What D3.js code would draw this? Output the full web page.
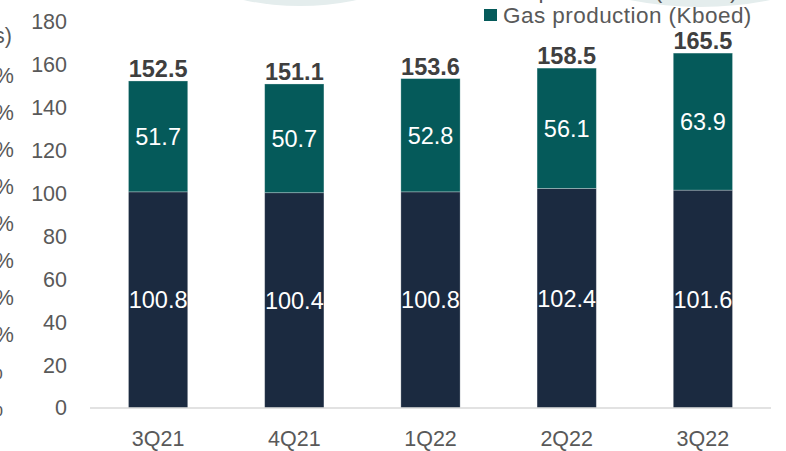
<!DOCTYPE html>
<html>
<head>
<meta charset="utf-8">
<script src="https://cdn.jsdelivr.net/npm/d3@7/dist/d3.min.js"></script>
<style>
  html, body { margin: 0; padding: 0; background: #ffffff; }
  svg { display: block; font-family: "Liberation Sans", Arial, Helvetica, sans-serif; }
</style>
</head>
<body>
<svg id="chart" width="786" height="451"></svg>
<script>
// Quarterly production, Kboed
const quarters = ["3Q21", "4Q21", "1Q22", "2Q22", "3Q22"];
const oilProduction = [100.8, 100.4, 100.8, 102.4, 101.6];
const gasProduction = [51.7, 50.7, 52.8, 56.1, 63.9];
const totalProduction = [152.5, 151.1, 153.6, 158.5, 165.5];
const yTicks = [0, 20, 40, 60, 80, 100, 120, 140, 160, 180];
const shareTicks = ["90%", "80%", "70%", "60%", "50%", "40%", "30%", "20%", "10%", "0%"];
const seriesNames = ["Oil production (Kboed)", "Gas production (Kboed)"];

const OIL = "#1b2a40", GAS = "#055a5a";
const AXIS_TEXT = "#595959", LABEL_DARK = "#3f3f3f";

const svg = d3.select("#chart");
const plot = { left: 90, right: 771, top: 22, bottom: 408 };

// Decorative pale circles peeking in from the top edge
svg.append("circle").attr("cx", 300).attr("cy", -268).attr("r", 274).attr("fill", "#e4eded");
svg.append("circle").attr("cx", 700).attr("cy", -347).attr("r", 354).attr("fill", "#e4eded");

const x = d3.scaleBand().domain(quarters).range([plot.left, plot.right]).paddingInner(0.565).paddingOuter(0.2825);
const y = d3.scaleLinear().domain([0, 180]).range([plot.bottom, plot.top]);

const rows = quarters.map((q, i) => ({ q, oil: oilProduction[i], gas: gasProduction[i], total: totalProduction[i] }));
const stack = d3.stack().keys(["oil", "gas"])(rows);
const colors = { oil: OIL, gas: GAS };

// Stacked bars
const layers = svg.append("g").selectAll("g").data(stack).join("g")
  .attr("fill", d => colors[d.key]);
layers.selectAll("rect").data(d => d).join("rect")
  .attr("x", d => x(d.data.q))
  .attr("width", x.bandwidth())
  .attr("y", d => y(d[1]))
  .attr("height", d => y(d[0]) - y(d[1]))
  .attr("stroke", "#ffffff").attr("stroke-opacity", 0.35).attr("stroke-width", 0.8);

// Segment values
layers.selectAll("text").data(d => d).join("text")
  .attr("x", d => x(d.data.q) + x.bandwidth() / 2)
  .attr("y", d => (y(d[0]) + y(d[1])) / 2)
  .attr("dy", "0.36em")
  .attr("text-anchor", "middle")
  .attr("fill", "#ffffff")
  .attr("font-size", 23.5)
  .text(function (d) { const key = d3.select(this.parentNode).datum().key; return d3.format(".1f")(d.data[key]); });

// Totals above each bar
svg.append("g").selectAll("text").data(rows).join("text")
  .attr("x", d => x(d.q) + x.bandwidth() / 2)
  .attr("y", d => y(d.total) - 4)
  .attr("text-anchor", "middle")
  .attr("fill", LABEL_DARK)
  .attr("font-size", 23.5).attr("font-weight", "bold")
  .text(d => d3.format(".1f")(d.total));

// Baseline
svg.append("line")
  .attr("x1", plot.left).attr("x2", plot.right)
  .attr("y1", y(0)).attr("y2", y(0))
  .attr("stroke", "#d9d9d9").attr("stroke-width", 1.5);

// Left value axis
const yAxis = svg.append("g").attr("transform", `translate(${plot.left},0)`)
  .call(d3.axisLeft(y).tickValues(yTicks).tickSize(0).tickPadding(23));
yAxis.select(".domain").remove();
yAxis.selectAll("text").attr("fill", AXIS_TEXT).attr("font-size", 21.5).attr("font-family", "Liberation Sans, Arial, sans-serif");

// Category axis
const xAxis = svg.append("g").attr("transform", `translate(0,${plot.bottom})`)
  .call(d3.axisBottom(x).tickSize(0).tickPadding(23));
xAxis.select(".domain").remove();
xAxis.selectAll("text").attr("fill", AXIS_TEXT).attr("font-size", 21.5).attr("font-family", "Liberation Sans, Arial, sans-serif");

// Secondary percentage axis at the far left edge
const yShare = d3.scalePoint().domain(shareTicks).range([75, 408]);
svg.append("g").selectAll("text").data(shareTicks).join("text")
  .attr("x", (d, i) => i >= 8 ? 3 : 14)
  .attr("y", d => yShare(d))
  .attr("dy", "0.36em")
  .attr("text-anchor", "end")
  .attr("fill", AXIS_TEXT).attr("font-size", 21.5)
  .text(d => d);

// Axis title tail
svg.append("text").attr("x", 12).attr("y", 35).attr("dy", "0.36em")
  .attr("text-anchor", "end").attr("fill", AXIS_TEXT).attr("font-size", 21.5)
  .text("(Kboeds)");

// Legend
const legend = svg.append("g").attr("transform", "translate(484,0)");
const legendRows = [{ name: seriesNames[0], color: OIL, cy: -10 }, { name: seriesNames[1], color: GAS, cy: 15 }];
legend.selectAll("rect").data(legendRows).join("rect")
  .attr("x", 0).attr("y", d => d.cy - 6).attr("width", 13).attr("height", 12)
  .attr("fill", d => d.color);
legend.selectAll("text").data(legendRows).join("text")
  .attr("x", 19).attr("y", d => d.cy).attr("dy", "0.36em")
  .attr("fill", AXIS_TEXT).attr("font-size", 22.5).attr("letter-spacing", 0.45)
  .text(d => d.name);
</script>
</body>
</html>
